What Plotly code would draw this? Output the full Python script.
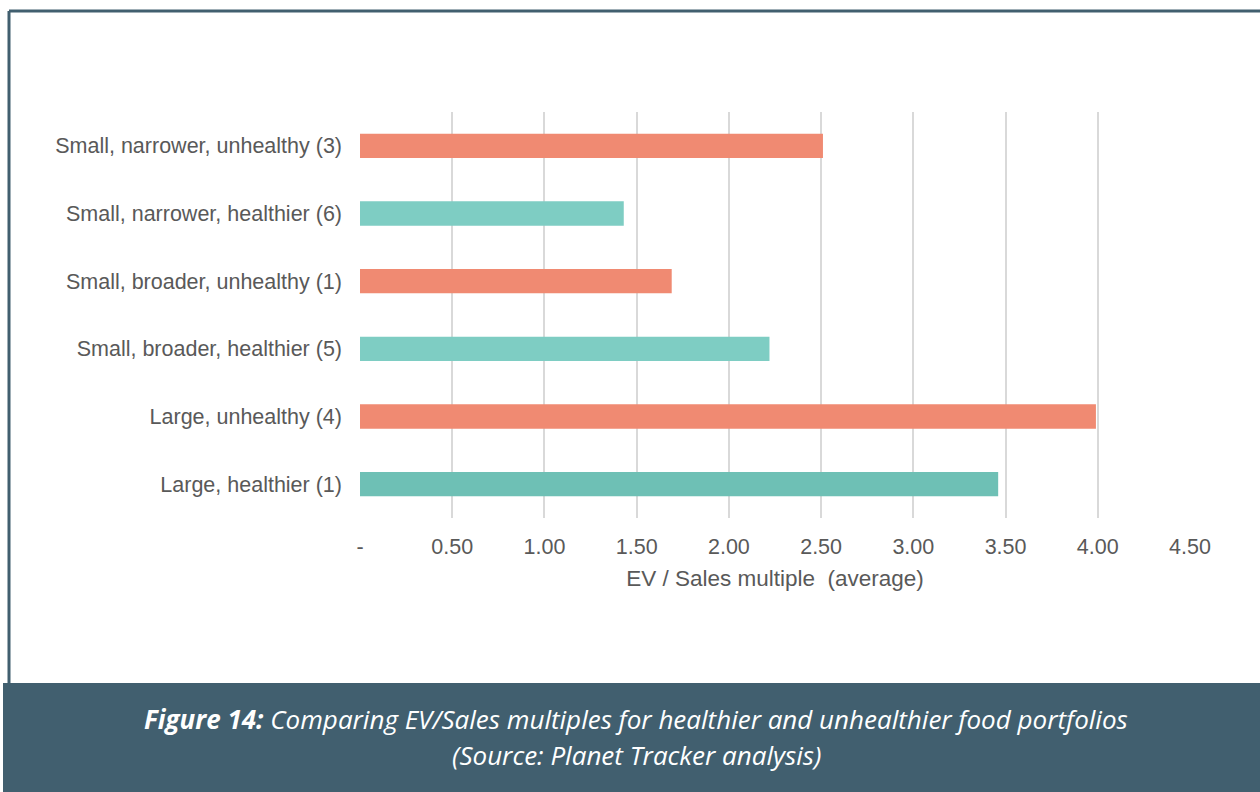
import plotly.graph_objects as go

# data, listed top to bottom as in the chart
categories = ["Small, narrower, unhealthy (3)", "Small, narrower, healthier (6)",
              "Small, broader, unhealthy (1)", "Small, broader, healthier (5)",
              "Large, unhealthy (4)", "Large, healthier (1)"]
ev_sales = [2.51, 1.43, 1.69, 2.22, 3.99, 3.46]
groups = ["unhealthy", "healthier", "unhealthy", "healthier", "unhealthy", "healthier_large"]
tick_vals = [0, 0.5, 1.0, 1.5, 2.0, 2.5, 3.0, 3.5, 4.0, 4.5]
tick_text = ["-", "0.50", "1.00", "1.50", "2.00", "2.50", "3.00", "3.50", "4.00", "4.50"]

colour_of = {"unhealthy": "#F08A72", "healthier": "#7ECDC3", "healthier_large": "#6EC0B5"}

W, H = 1260, 792
L, R, T, B = 360, 70, 112, 274
pw, ph = W - L - R, H - T - B

def px_x(p):
    return (p - L) / pw

def px_y(p):
    return (H - B - p) / ph

frame = "#415F6F"
grey = "#595959"
label_font = "Liberation Sans, Arial"

fig = go.Figure()
fig.add_trace(go.Bar(y=categories, x=ev_sales, orientation="h",
                     marker=dict(color=[colour_of[g] for g in groups], line_width=0),
                     hoverinfo="x+y"))

fig.update_xaxes(range=[0, 4.5], tickvals=tick_vals, ticktext=tick_text,
                 showgrid=True, gridcolor="#D9D9D9", gridwidth=2, zeroline=False,
                 showline=False, ticks="", ticklabelstandoff=13,
                 tickfont=dict(family=label_font, size=21.5, color=grey),
                 title=dict(text="EV / Sales multiple  (average)", standoff=12,
                            font=dict(family=label_font, size=22.5, color=grey)))
fig.update_yaxes(autorange="reversed", showgrid=False, showline=False, ticks="",
                 ticklabelstandoff=17,
                 tickfont=dict(family=label_font, size=21.5, color=grey))

shapes = [
    # caption band
    dict(type="rect", xref="paper", yref="paper", x0=px_x(3), x1=px_x(W + 5),
         y0=px_y(683), y1=px_y(H + 5), fillcolor=frame, line_width=0, layer="below"),
    # frame lines
    dict(type="line", xref="paper", yref="paper", x0=px_x(9), x1=px_x(W + 5),
         y0=px_y(11), y1=px_y(11), line=dict(color=frame, width=3)),
    dict(type="line", xref="paper", yref="paper", x0=px_x(9), x1=px_x(9),
         y0=px_y(11), y1=px_y(684), line=dict(color=frame, width=3)),
]

caption_font = dict(family="Open Sans", size=26, color="white")
annotations = [
    dict(text="<b><i>Figure 14:</i></b><i> Comparing EV/Sales multiples for healthier and unhealthier food portfolios</i>",
         xref="paper", yref="paper", x=px_x(636), y=px_y(719), showarrow=False,
         xanchor="center", yanchor="middle", font=caption_font),
    dict(text="<i>(Source: Planet Tracker analysis)</i>",
         xref="paper", yref="paper", x=px_x(636), y=px_y(755), showarrow=False,
         xanchor="center", yanchor="middle", font=caption_font),
]

fig.update_layout(width=W, height=H, margin=dict(l=L, r=R, t=T, b=B),
                  paper_bgcolor="white", plot_bgcolor="white",
                  bargap=0.64, showlegend=False,
                  shapes=shapes, annotations=annotations)

# page has a default 8px body margin; drop it so the figure fills the window
fig.write_html("out.html", config={"displayModeBar": False},
               post_script="document.body.style.margin='0';")
